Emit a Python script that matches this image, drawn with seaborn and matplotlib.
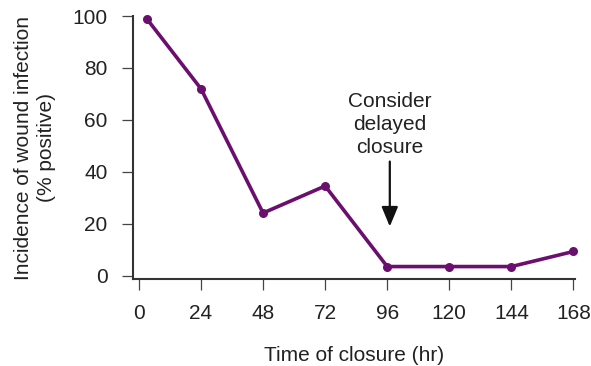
import matplotlib
matplotlib.use("Agg")
import matplotlib.pyplot as plt
import seaborn as sns
import pandas as pd

hours = [3, 24, 48, 72, 96, 120, 144, 168]
infection_pct = [99, 72, 24.2, 34.6, 3.6, 3.6, 3.6, 9.4]
x_ticks = [0, 24, 48, 72, 96, 120, 144, 168]
y_ticks = [0, 20, 40, 60, 80, 100]
annotation_text = "Consider\ndelayed\nclosure"
arrow_x = 97
arrow_tail_y = 44
arrow_tip_y = 19

sns.set_theme(style="ticks")
plt.rcParams['font.family'] = ['Liberation Sans', 'DejaVu Sans']

purple = "#6b0f6e"
ink = "#222222"
fs = 15

df = pd.DataFrame({"hours": hours, "pct": infection_pct})

fig = plt.figure(figsize=(5.91, 3.66), dpi=100)
ax = fig.add_axes([132.7 / 591, (366 - 279.3) / 366, (575 - 132.7) / 591, (279.3 - 16) / 366])

sns.lineplot(data=df, x="hours", y="pct", ax=ax, color=purple, linewidth=2.6,
             marker="o", markersize=6.5, markeredgewidth=0, clip_on=False)
for ln in ax.lines:
    ln.set_clip_on(False)

ax.set_xlim(-2.4, 168.6)
ax.set_ylim(-1.3, 100)
ax.set_xticks(x_ticks)
ax.set_yticks(y_ticks)
ax.set_xticklabels([str(v) for v in x_ticks])
ax.set_yticklabels([str(v) for v in y_ticks])

for side in ["top", "right"]:
    ax.spines[side].set_visible(False)
for side in ["left", "bottom"]:
    ax.spines[side].set_linewidth(1.5)
    ax.spines[side].set_color("#333333")

ax.tick_params(axis="both", which="major", labelsize=fs, colors="#444444",
               labelcolor=ink, length=8, width=0.9, direction="out")
ax.tick_params(axis="x", pad=10)
ax.tick_params(axis="y", pad=10)

ax.set_xlabel("Time of closure (hr)", fontsize=fs, color=ink, labelpad=16.5)
ax.set_ylabel("Incidence of wound infection\n(% positive)", fontsize=fs, color=ink,
              labelpad=12, linespacing=1.25)

ax.text(arrow_x, 58.3, annotation_text, ha="center", va="center", fontsize=fs,
        color=ink, linespacing=1.25)
ax.annotate("", xy=(arrow_x, arrow_tip_y), xytext=(arrow_x, arrow_tail_y),
            arrowprops=dict(arrowstyle="-|>,head_width=0.25,head_length=0.6",
                            mutation_scale=20, lw=1.6, color="#111111",
                            shrinkA=0, shrinkB=0))

fig.savefig("out.png", dpi=100)
